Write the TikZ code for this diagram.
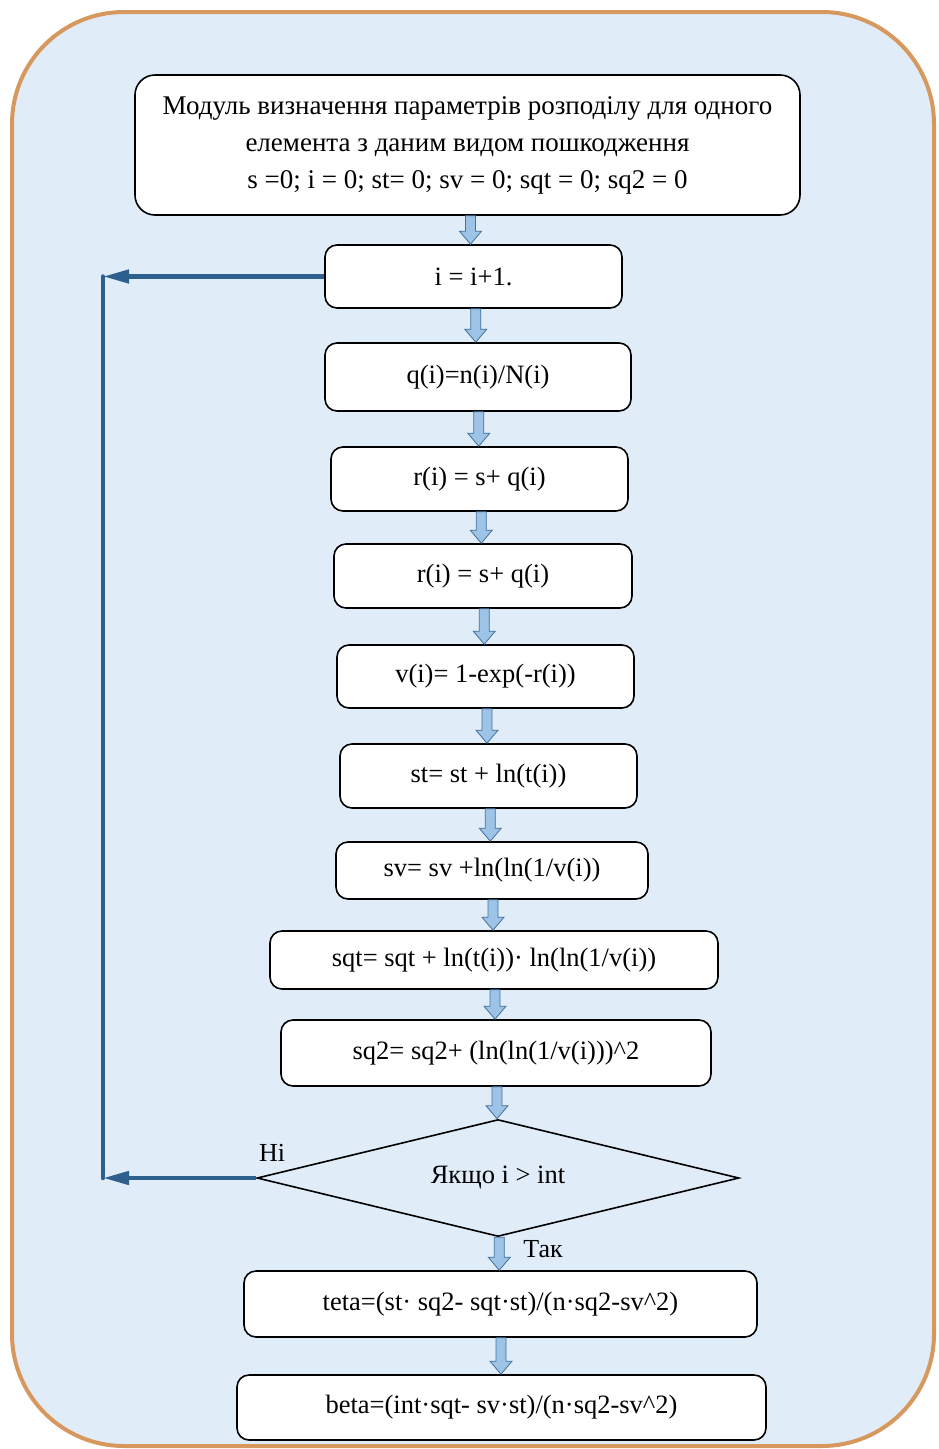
\documentclass[tikz,border=0pt]{standalone}
\usepackage{fontspec}
\setmainfont{Liberation Serif}
\usetikzlibrary{shapes.geometric,arrows.meta,calc}

\definecolor{pagebg}{RGB}{225,236,249}
\definecolor{frameline}{RGB}{214,152,92}
\definecolor{arrowfill}{RGB}{157,195,230}
\definecolor{arrowline}{RGB}{65,113,156}
\definecolor{loopblue}{RGB}{46,96,143}

\tikzset{
  stepbox/.style={draw=black, line width=1.6pt, fill=white, rounded corners=12pt,
    inner sep=0pt, align=center, font=\fontsize{26.5}{37}\selectfont},
  testbox/.style={draw=black, line width=1.6pt, diamond, aspect=4.1, inner sep=0pt,
    font=\fontsize{26.5}{30}\selectfont},
  flowarrow/.style={fill=arrowfill, draw=arrowline, line width=0.8pt},
  back/.style={draw=loopblue, line width=4.5pt},
  tag/.style={font=\fontsize{26}{30}\selectfont},
}

% block arrow from the bottom of one box to the top of the next
\newcommand\flow[2]{%
  \path[flowarrow] let \p1=(#1.south), \p2=(#2.north),
    \p3=($(#1.south)!0.5!(#2.north)$) in
    (\x3-5pt,\y1) -- (\x3-5pt,\y2+13pt) -- (\x3-11pt,\y2+13pt) -- (\x3,\y2)
    -- (\x3+11pt,\y2+13pt) -- (\x3+5pt,\y2+13pt) -- (\x3+5pt,\y1) -- cycle;}

\begin{document}
\begin{tikzpicture}[x=1pt, y=-1pt]
    \useasboundingbox (0,0) rectangle (939,1449);

    % page frame
    \draw[line width=4pt, draw=frameline, fill=pagebg, rounded corners=112pt]
        (12,12) rectangle (934,1446);

    % steps
    \node[stepbox, minimum width=665pt, minimum height=140pt, rounded corners=20pt,
        font=\fontsize{27}{37}\selectfont]
        (start) at (467.5,145) {Модуль визначення параметрів розподілу для одного\\
        елемента з даним видом пошкодження\\
        s =0; i = 0; st= 0; sv = 0; sqt = 0; sq2 = 0};
    \node[stepbox, minimum width=297pt, minimum height=63pt] (inc) at (473.5,276.5) {i = i+1.};
    \node[stepbox, minimum width=306pt, minimum height=68pt] (q) at (478,377) {q(i)=n(i)/N(i)};
    \node[stepbox, minimum width=297pt, minimum height=64pt] (r1) at (479.5,479) {r(i) = s+ q(i)};
    \node[stepbox, minimum width=298pt, minimum height=64pt] (r2) at (483,576) {r(i) = s+ q(i)};
    \node[stepbox, minimum width=297pt, minimum height=63pt] (v) at (485.5,676.5) {v(i)= 1-exp(-r(i))};
    \node[stepbox, minimum width=297pt, minimum height=64pt] (st) at (488.5,776) {st= st + ln(t(i))};
    \node[stepbox, minimum width=312pt, minimum height=57pt] (sv) at (492,870.5) {sv= sv +ln(ln(1/v(i))};
    \node[stepbox, minimum width=448pt, minimum height=58pt] (sqt) at (494,960) {sqt= sqt + ln(t(i))· ln(ln(1/v(i))};
    \node[stepbox, minimum width=430pt, minimum height=66pt] (sq2) at (496,1053) {sq2= sq2+ (ln(ln(1/v(i)))\^{}2};
    \node[testbox, minimum width=482pt, minimum height=117pt] (cond) at (498,1178) {\raisebox{6pt}{Якщо i > int}};
    \node[stepbox, minimum width=513pt, minimum height=66pt] (teta) at (500.5,1304) {teta=(st· sq2- sqt·st)/(n·sq2-sv\^{}2)};
    \node[stepbox, minimum width=529pt, minimum height=65pt] (beta) at (501.5,1407.5) {beta=(int·sqt- sv·st)/(n·sq2-sv\^{}2)};

    % arrows down
    \flow{start}{inc}
    \flow{inc}{q}
    \flow{q}{r1}
    \flow{r1}{r2}
    \flow{r2}{v}
    \flow{v}{st}
    \flow{st}{sv}
    \flow{sv}{sqt}
    \flow{sqt}{sq2}
    \flow{sq2}{cond}
    \flow{cond}{teta}
    \flow{teta}{beta}

    % loop back
    \coordinate (loopbot) at (103,1178);
    \coordinate (looptop) at (103,276.5);
    \draw[back, -{Triangle[length=26pt,width=13pt]}] (cond.west) -- (loopbot);
    \draw[back, line cap=round] (loopbot) -- (looptop);
    \draw[back, -{Triangle[length=26pt,width=13pt]}] (inc.west) -- (looptop);

    \node[tag] (no) at (272,1153) {Ні};
    \node[tag] (yes) at (543,1249) {Так};
\end{tikzpicture}
\end{document}
